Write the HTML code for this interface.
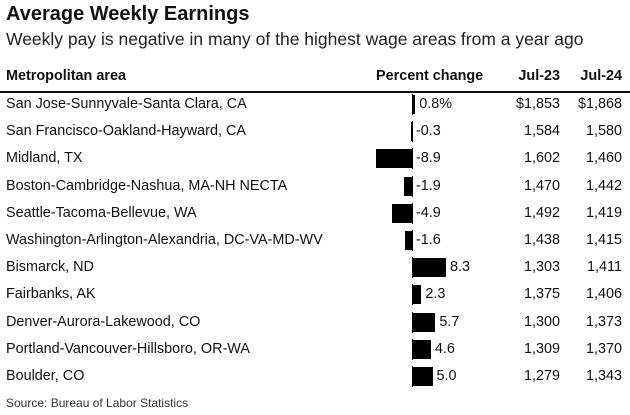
<!DOCTYPE html>
<html><head><style>
body{margin:0;width:630px;height:415px;background:#fff;font-family:"Liberation Sans",sans-serif;color:#111;position:relative;overflow:hidden}
div{position:absolute;white-space:nowrap}
.t{left:6px;top:3px;font-size:20px;font-weight:bold}
.s{left:6px;top:29px;font-size:17.5px;color:#222}
.h{top:68px;font-size:14.4px;font-weight:bold}
.r{font-size:14.4px;line-height:18px}
.bar{background:#000;height:19px}
.ax{background:#000;width:1px;height:21px;left:412px}
.src{left:6px;top:396px;font-size:12px;color:#333}
</style></head><body>
<div class="t">Average Weekly Earnings</div>
<div class="s">Weekly pay is negative in many of the highest wage areas from a year ago</div>
<div class="h" style="left:6px">Metropolitan area</div>
<div class="h" style="left:376px">Percent change</div>
<div class="h" style="right:70px">Jul-23</div>
<div class="h" style="right:8px">Jul-24</div>
<div style="left:0;top:91px;width:630px;height:2px;background:#111"></div>
<div id="rows"></div>
<div class="src">Source: Bureau of Labor Statistics</div>
<script>
var d=[["San Jose-Sunnyvale-Santa Clara, CA",0.8,"0.8%","$1,853","$1,868"],
["San Francisco-Oakland-Hayward, CA",-0.3,"-0.3","1,584","1,580"],
["Midland, TX",-8.9,"-8.9","1,602","1,460"],
["Boston-Cambridge-Nashua, MA-NH NECTA",-1.9,"-1.9","1,470","1,442"],
["Seattle-Tacoma-Bellevue, WA",-4.9,"-4.9","1,492","1,419"],
["Washington-Arlington-Alexandria, DC-VA-MD-WV",-1.6,"-1.6","1,438","1,415"],
["Bismarck, ND",8.3,"8.3","1,303","1,411"],
["Fairbanks, AK",2.3,"2.3","1,375","1,406"],
["Denver-Aurora-Lakewood, CO",5.7,"5.7","1,300","1,373"],
["Portland-Vancouver-Hillsboro, OR-WA",4.6,"4.6","1,309","1,370"],
["Boulder, CO",5.0,"5.0","1,279","1,343"]];
var h="",z=412,k=4.1;
d.forEach(function(r,i){var c=104+i*27.2,ty=c-9;
h+='<div class="r" style="left:6px;top:'+ty+'px">'+r[0]+'</div>';
h+='<div class="ax" style="top:'+(c-10)+'px"></div>';
var w=Math.abs(r[1])*k;
if(r[1]>=0){h+='<div class="bar" style="left:'+z+'px;top:'+(c-9)+'px;width:'+w+'px"></div>';
h+='<div class="r" style="left:'+(z+w+4)+'px;top:'+ty+'px">'+r[2]+'</div>';}
else{h+='<div class="bar" style="left:'+(z-w)+'px;top:'+(c-9)+'px;width:'+w+'px"></div>';
h+='<div class="r" style="left:'+(z+4)+'px;top:'+ty+'px">'+r[2]+'</div>';}
h+='<div class="r" style="right:70px;top:'+ty+'px">'+r[3]+'</div>';
h+='<div class="r" style="right:8px;top:'+ty+'px">'+r[4]+'</div>';});
document.getElementById("rows").outerHTML=h;
</script>
</body></html>
